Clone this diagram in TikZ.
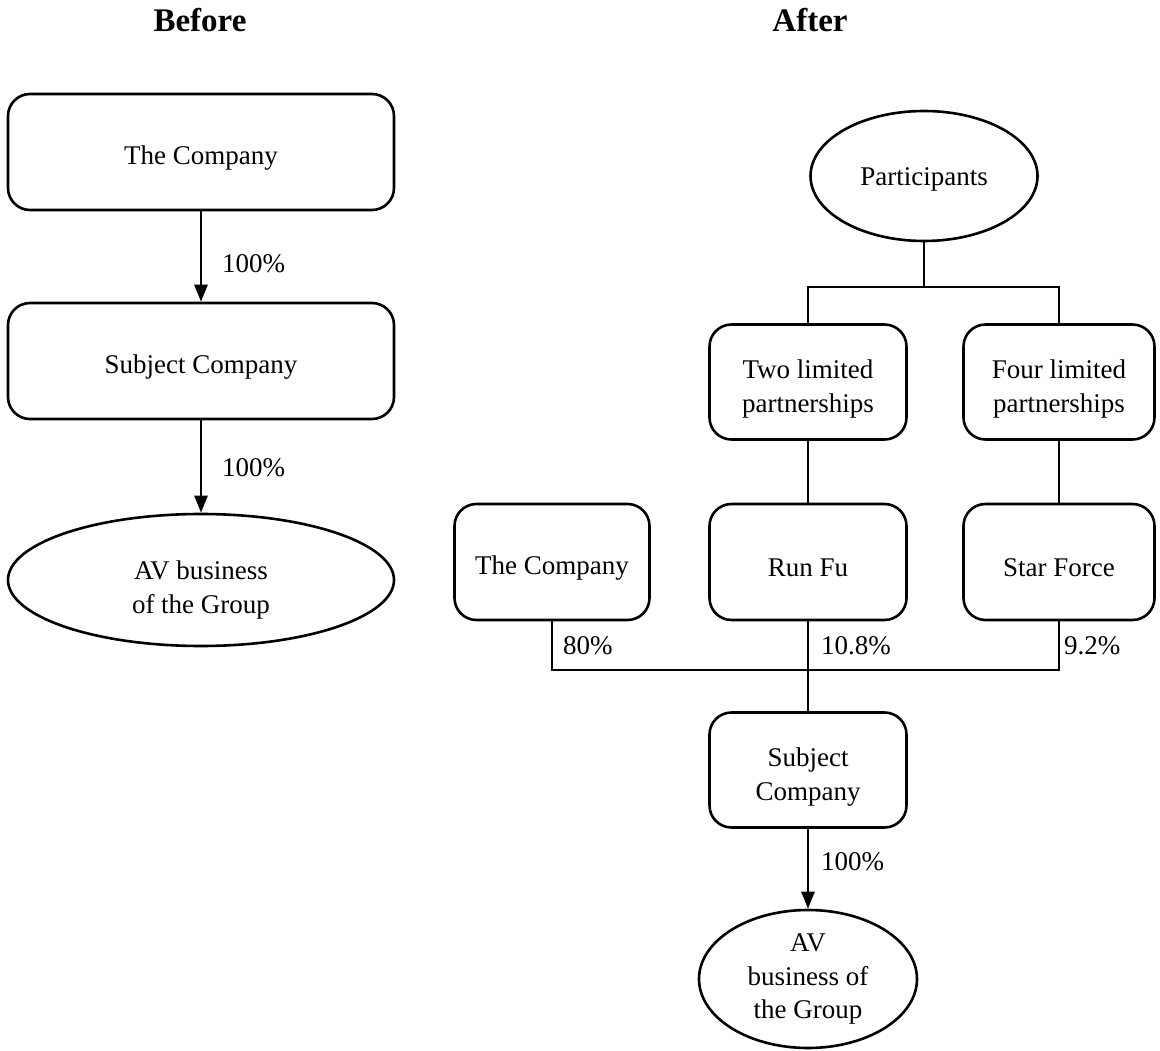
\documentclass[tikz,border=0pt]{standalone}
\usepackage{fontspec}
\setmainfont{Liberation Serif}
\usetikzlibrary{arrows.meta,shapes.geometric}
\begin{document}
\begin{tikzpicture}[x=1pt,y=-1pt,
  every node/.style={font=\fontsize{27}{33.5}\selectfont},
  tlift/.style={execute at begin node={\rule{0pt}{#1}}},
  rbox/.style={draw,line width=2.6pt,rounded corners=22pt,align=center,inner sep=0pt,tlift=30pt},
  ell/.style={draw,line width=2.6pt,ellipse,align=center,inner sep=0pt},
  conn/.style={line width=2.6pt},
  arr/.style={line width=2.6pt,-{Triangle[length=17pt,width=13pt]}},
  pct/.style={anchor=west,inner sep=0pt},
  hdr/.style={font=\fontsize{33}{38}\selectfont\bfseries}]
\useasboundingbox (0,0) rectangle (1160,1051);
% headers
\node[hdr] (hb) at (200,20) {Before};
\node[hdr] (ha) at (810,20) {After};
% Before
\node[rbox,minimum width=386pt,minimum height=116pt] (L1) at (201,152) {The Company};
\node[rbox,minimum width=386pt,minimum height=116pt] (L2) at (201,361) {Subject Company};
\node[ell,tlift=72pt,minimum width=386pt,minimum height=132pt] (L3) at (201,580) {AV business\\of the Group};
\draw[arr] (L1.south) -- (L2.north);
\draw[arr] (L2.south) -- (L3.north);
\node[pct] (l1p) at (222,264) {100\%};
\node[pct] (l2p) at (222,468) {100\%};
% After
\node[ell,tlift=24pt,minimum width=227pt,minimum height=130pt] (P) at (924,176) {Participants};
\node[rbox,tlift=66pt,minimum width=197pt,minimum height=115pt] (T2) at (808,382) {Two limited\\partnerships};
\node[rbox,tlift=66pt,minimum width=191pt,minimum height=115pt] (F4) at (1059,382) {Four limited\\partnerships};
\node[rbox,minimum width=195pt,minimum height=116pt] (C) at (552,562) {The Company};
\node[rbox,minimum width=197pt,minimum height=116pt] (R) at (808,562) {Run Fu};
\node[rbox,minimum width=191pt,minimum height=116pt] (S) at (1059,562) {Star Force};
\node[rbox,tlift=66pt,minimum width=197pt,minimum height=115pt] (SC) at (808,770) {Subject\\Company};
\node[ell,minimum width=218pt,minimum height=138pt] (AV) at (808,979) {AV\\business of\\the Group};
\coordinate (pb) at (924,287);
\coordinate (bb) at (808,670);
\draw[conn] (P.south) -- (pb);
\draw[conn] (T2.north) |- (pb) -| (F4.north);
\draw[conn] (T2.south) -- (R.north);
\draw[conn] (F4.south) -- (S.north);
\draw[conn] (C.south) |- (bb) -| (S.south);
\draw[conn] (R.south) -- (SC.north);
\draw[arr] (SC.south) -- (AV.north);
\node[pct] (cp) at (563,646) {80\%};
\node[pct] (rp) at (821,646) {10.8\%};
\node[pct] (sp) at (1064,646) {9.2\%};
\node[pct] (scp) at (821,862) {100\%};
\end{tikzpicture}
\end{document}
